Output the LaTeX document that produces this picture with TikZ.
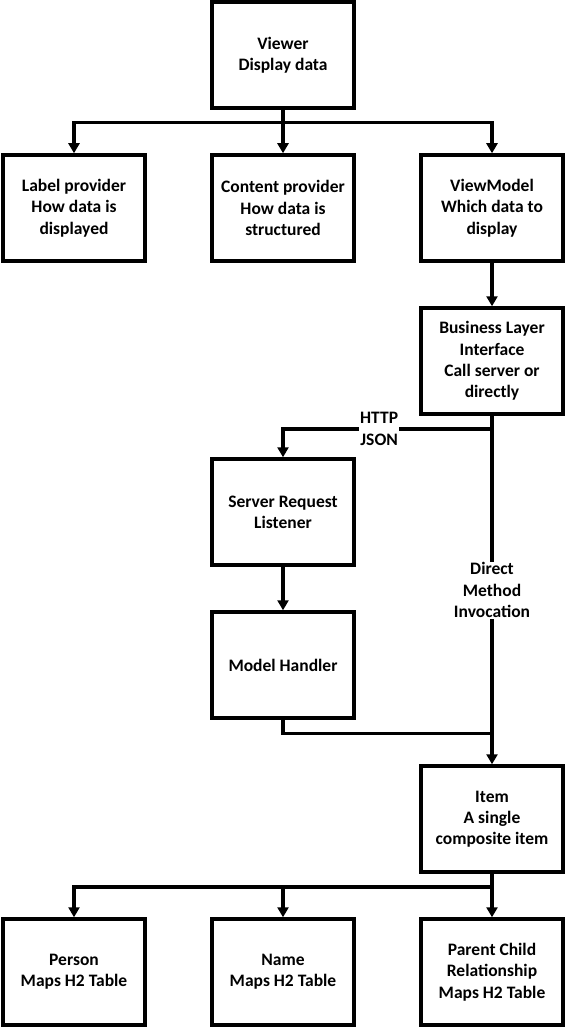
\documentclass[tikz,border=0pt]{standalone}
\usepackage{fontspec}
\setmainfont{Carlito}
\usepackage{tikz}
\usetikzlibrary{positioning}
\usetikzlibrary{arrows.meta}
\tikzset{>={Triangle[width=11pt,length=10pt]}}

\begin{document}
\begin{tikzpicture}[x=1pt, y=1pt, line width=3.5pt, box/.style={rectangle, draw=black, line width=3.5pt, minimum width=142pt, minimum height=106pt, align=center, font=\fontsize{17.5}{21.3}\selectfont\bfseries}, linelabel/.style={fill=white, inner sep=1pt, align=center, font=\fontsize{17.5}{21.3}\selectfont\bfseries}]
    \useasboundingbox (0,0) rectangle (565,-1027);

    %Nodes
    \node[box](viewer) at (283,-55){Viewer\\Display data};
    \node[box](content)[below=43.5pt of viewer]{Content provider\\How data is\\structured};
    \node[box](labelprov)[left=63.5pt of content]{Label provider\\How data is\\displayed};
    \node[box](viewmodel)[right=63.5pt of content]{ViewModel\\Which data to\\display};
    \node[box](business)[below=43.5pt of viewmodel]{Business Layer\\Interface\\Call server or\\directly};
    \node[box](server)[below=194.5pt of content]{Server Request\\Listener};
    \node[box](model)[below=43.5pt of server]{Model Handler};
    \node[box](item)[below=348.5pt of business]{Item\\A single\\composite item};
    \node[box](parent)[below=43.5pt of item]{Parent Child\\Relationship\\Maps H2 Table};
    \node[box](name)[left=63.5pt of parent]{Name\\Maps H2 Table};
    \node[box](person)[left=63.5pt of name]{Person\\Maps H2 Table};

    %Lines
    \draw[->] (viewer.south) -- (content.north);
    \draw[->] (viewer.south) -- ++(0,-13) -| (labelprov.north);
    \draw[->] (viewer.south) -- ++(0,-13) -| (viewmodel.north);
    \draw[->] (viewmodel.south) -- (business.north);
    \draw[->] (business.south) -- ++(0,-13) -| node[linelabel, pos=0.27]{HTTP\\JSON} (server.north);
    \draw[->] (server.south) -- (model.north);
    \draw[->] (business.south) -- node[linelabel]{Direct\\Method\\Invocation} (item.north);
    \draw (model.south) |- ([yshift=31pt]item.north);
    \draw[->] (item.south) -- (parent.north);
    \draw[->] (item.south) -- ++(0,-13) -| (name.north);
    \draw[->] (item.south) -- ++(0,-13) -| (person.north);

\end{tikzpicture}
\end{document}
